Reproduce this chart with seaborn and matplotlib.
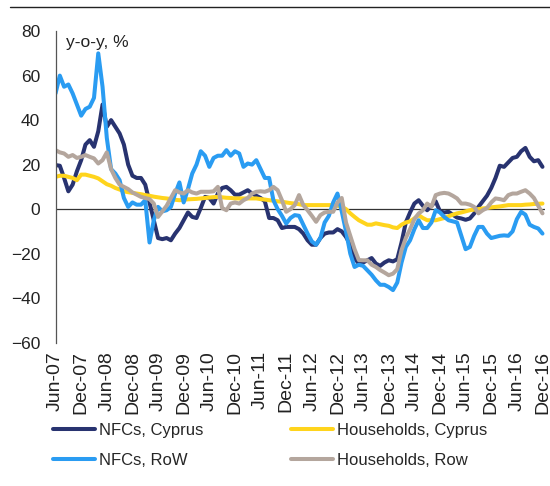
import matplotlib
matplotlib.use("Agg")
import matplotlib.pyplot as plt
import seaborn as sns
import pandas as pd
from matplotlib.lines import Line2D

# monthly y-o-y growth, Jun-07 .. Dec-16 (115 months)
months = pd.date_range("2007-06-01", periods=115, freq="MS")

nfc_cyprus = [
    19.8, 19.5, 14, 8, 11, 17, 22, 29, 31, 28,
    35, 47, 37, 40, 37, 34, 29, 20, 15, 14,
    14, 11, 3, -5, -13, -13.5, -13, -14, -11, -8.5,
    -5, -1.5, -3.5, -4, 0.5, 5.5, 5, 2.5, 7, 9.5,
    10, 8.5, 6.5, 6.5, 7.5, 8.5, 7, 6, 5, 3.5,
    -4, -4, -5, -8.5, -8, -8, -8, -9, -11, -14,
    -16, -16, -13, -11, -10.5, -10.5, -9, -10, -12.5, -16,
    -22, -24.5, -24, -23, -22, -24.5, -25.5, -24, -23, -23.5,
    -22.5, -15, -6, -1.5, 2.5, 4, 1.5, -0.5, 1.5, 3.5,
    -1, -1.5, -1.2, -2.5, -3.8, -4.2, -4.8, -4.2, -2, 1,
    3.5, 6, 9.5, 14, 19.5, 19, 21, 23, 23.5, 26,
    27.5, 23.5, 21.5, 22, 19,
]

hh_cyprus = [
    14.5, 15, 15, 14.5, 14, 13, 15.5, 15.5, 15, 14.5,
    13.8, 12.5, 11.2, 10.5, 9.5, 8.8, 8, 7.6, 7.3, 7,
    6.7, 6.3, 6, 5.6, 5.3, 5, 4.8, 4.5, 4.2, 4,
    4.2, 4.4, 4.5, 4.6, 4.8, 5, 5.2, 5.4, 5.5, 5.3,
    5.1, 5, 4.8, 4.8, 4.8, 4.8, 4.8, 4.8, 4.5, 4.3,
    4, 3.8, 3.5, 3.3, 3, 2.7, 2.5, 2.2, 1.8, 1.8,
    1.8, 1.8, 1.8, 1.8, 1.8, 1.8, 1.5, 1, 0, -1.9,
    -3.5, -5, -6, -7, -7, -6.4, -6.8, -7.2, -7.5, -8.2,
    -8.5, -7, -6, -5.5, -4.2, -2.7, -4, -5, -5, -5,
    -4.5, -4, -3.2, -2.5, -1.9, -1.5, -1, -0.5, -0.2, 0,
    0.3, 0.5, 0.8, 1, 1.2, 1.5, 1.8, 1.8, 1.8, 1.8,
    2, 2.1, 2.3, 2.4, 2.5,
]

nfc_row = [
    52, 60, 55, 56, 52, 47, 42, 45, 46, 50,
    70, 55, 32, 18, 16, 13, 5, 1, 3, 2,
    2, 4, -15, -5, 1, -1, -0.5, 1, 7, 12,
    3, 9, 16, 20, 26, 24, 19, 23, 24, 24,
    26.5, 24, 26, 25, 19, 20.5, 20, 22, 18, 14,
    14, 4, 0, -3, -6.5, -4, -2.7, -3, -7, -11,
    -14.5, -16, -13, -6, -3, 3, 7, -1, -10, -20,
    -26, -25, -25.5, -27.5, -29.5, -32, -34, -34, -35, -36.4,
    -33, -24, -17, -14, -9, -5, -8.5, -8.5, -6, -0.5,
    -1.5, -3.5, -5, -5.5, -6, -12, -18, -17, -12, -8,
    -8, -11, -13, -12.5, -12, -11.8, -12, -10, -4.5, -1.2,
    -2.5, -7, -8, -8.7, -11,
]

hh_row = [
    26.5, 25.5, 25, 23.5, 24.3, 23, 23.5, 24.3, 23.5, 22.8,
    20.5, 22, 25.5, 18, 14, 11, 10, 9, 7.5, 6.5,
    5.5, 5, 4.5, 2.5, -3.5, -1, 1.5, 5, 8.5, 7.5,
    7, 8.5, 7.5, 7, 7.8, 7.8, 7.8, 8, 10, 0.5,
    -0.5, 2.5, 3, 2.5, 4, 5, 7, 7.8, 8, 7.8,
    8.5, 10, 8.5, 4, -1.2, 0, 1.8, 6.3, 1.8, -0.5,
    -3, -5.7, -2.7, -1.5, -1.2, -1.2, 3, 5, -6, -12,
    -18, -22.9, -23, -23, -25, -26, -27.4, -28.5, -29.7, -29,
    -27, -18.4, -13, -9, -4.5, -2, -0.5, 2.5, 1, 6.3,
    7, 7.3, 7, 6, 4.8, 2.5, 2.5, 2, 1, -1.9,
    -0.5, 0.5, 3, 4.8, 4.5, 4, 6.3, 7, 7, 7.8,
    8.5, 7, 5, 1.5, -1.9,
]

series_names = ["NFCs, Cyprus", "Households, Cyprus", "NFCs, RoW", "Households, Row"]
series_values = [nfc_cyprus, hh_cyprus, nfc_row, hh_row]
colors = {
    "NFCs, Cyprus": "#283370",
    "Households, Cyprus": "#FFD41C",
    "NFCs, RoW": "#2A9CF2",
    "Households, Row": "#B4A69D",
}

frames = []
for name, vals in zip(series_names, series_values):
    frames.append(pd.DataFrame({"month": range(len(months)), "value": vals, "series": name}))
df = pd.concat(frames, ignore_index=True)

sns.set_style("white")
plt.rcParams["font.family"] = ["Liberation Sans", "DejaVu Sans"]

fig = plt.figure(figsize=(5.5, 4.86), dpi=100)
ax = fig.add_axes([0.101, 0.295, 0.890, 0.641])

sns.lineplot(data=df, x="month", y="value", hue="series", hue_order=series_names,
             palette=colors, linewidth=2.9, legend=False, ax=ax)

ax.axhline(0, color="#333333", linewidth=0.9, zorder=1)

ax.set_xlim(0, 114.6)
ax.set_ylim(-60, 80)
ax.set_yticks(range(-60, 81, 20))
ticks = list(range(0, 115, 6))
ax.set_xticks(ticks)
ax.set_xticklabels([months[i].strftime("%b-%y") for i in ticks], rotation=90)
ax.tick_params(axis="y", length=0, labelsize=12.5, colors="#222222", pad=11)
ax.tick_params(axis="x", length=0, labelsize=14, colors="#222222", pad=6)
ax.set_xlabel("")
ax.set_ylabel("")

for side in ["top", "right", "bottom"]:
    ax.spines[side].set_visible(False)
ax.spines["left"].set_color("#555555")
ax.spines["left"].set_linewidth(0.9)

ax.text(0.022, 0.965, "y-o-y, %", transform=ax.transAxes, fontsize=12.5,
        va="center", ha="left", color="#222222")

# legend, two rows read across
handles = [Line2D([], [], color=colors[n], linewidth=2.9) for n in series_names]
order = [0, 2, 1, 3]
ax.legend([handles[i] for i in order], [series_names[i] for i in order],
          ncol=2, loc="upper left", bbox_to_anchor=(-0.0055, -0.257),
          frameon=False, fontsize=12, handlelength=2.5, handletextpad=0.25,
          columnspacing=5.3, labelspacing=0.9, borderaxespad=0, borderpad=0)

# rule across the top of the cropped page
fig.add_artist(Line2D([10 / 550, 1.0], [1 - 7 / 486, 1 - 7 / 486],
                      color="#222222", linewidth=1.0))

fig.savefig("out.png", dpi=100)
